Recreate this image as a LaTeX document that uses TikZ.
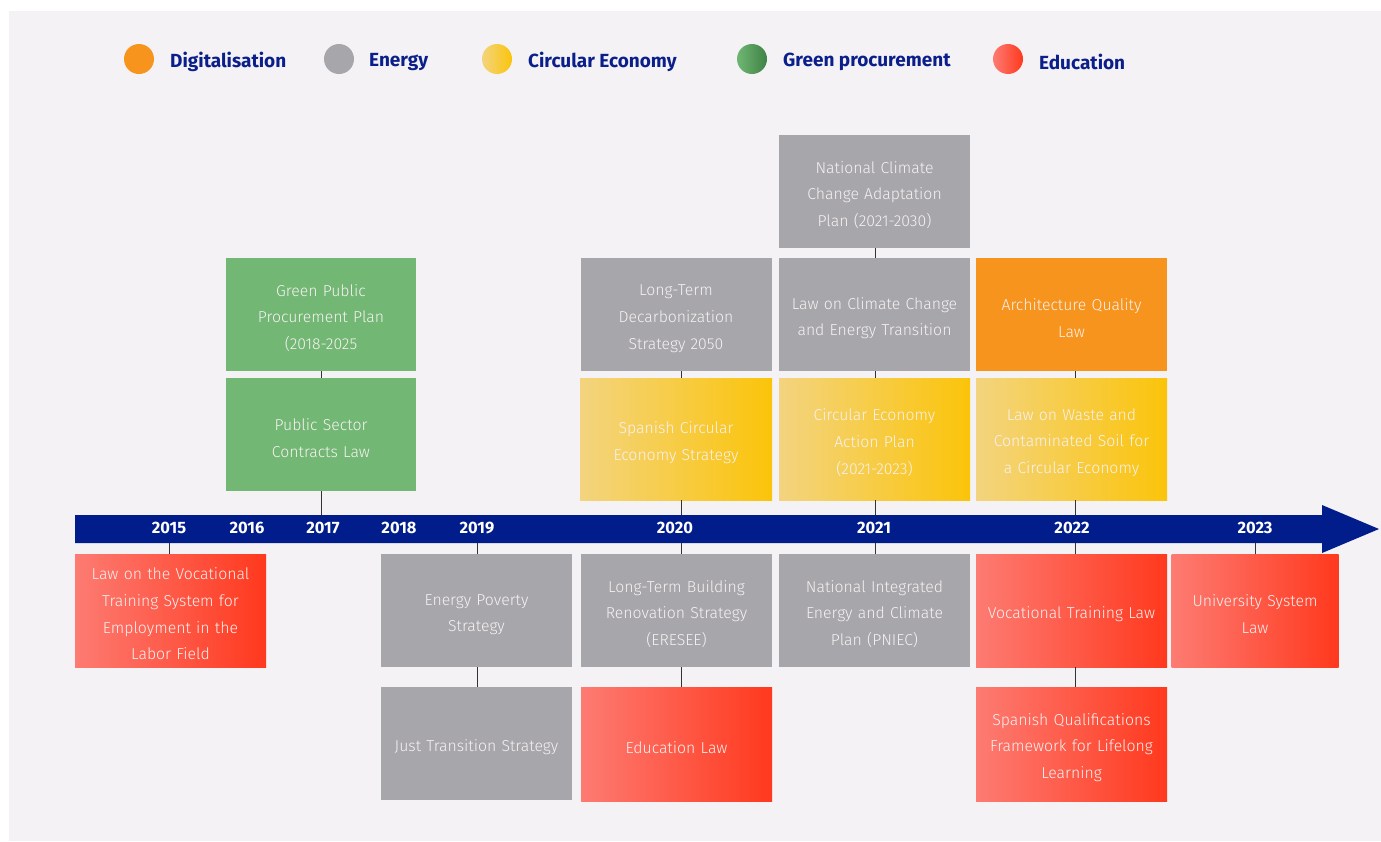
\documentclass[tikz,border=0pt]{standalone}
\usepackage{fontspec}
\setmainfont{Fira Sans}
\newfontfamily\lightfont{Fira Sans Light}
\definecolor{bgc}{HTML}{F4F2F5}
\definecolor{navy}{HTML}{001D8B}
\definecolor{legtxt}{HTML}{0A1F8A}
\definecolor{grayb}{HTML}{A7A6AB}
\definecolor{greenb}{HTML}{72B774}
\definecolor{orangeb}{HTML}{F7941D}
\definecolor{yelL}{HTML}{F3D47F}
\definecolor{yelR}{HTML}{FBC40A}
\definecolor{redL}{HTML}{FD7B72}
\definecolor{redR}{HTML}{FF391E}
\definecolor{grnL}{HTML}{70B673}
\definecolor{grnR}{HTML}{3E8245}
\definecolor{boxtxt}{HTML}{F7F2F2}
\tikzset{
  box/.style={rectangle, inner sep=0pt, minimum width=191pt, minimum height=113pt,
    text width=186pt, align=center, text=boxtxt, font=\lightfont\fontsize{15.8}{26.7}\selectfont,
    execute at begin node={\rule{0pt}{19pt}}},
  graybox/.style={box, fill=grayb},
  greenbox/.style={box, fill=greenb},
  orangebox/.style={box, fill=orangeb},
  yellowbox/.style={box, left color=yelL, right color=yelR, minimum height=122pt},
  redbox/.style={box, left color=redL, right color=redR},
  conn/.style={draw=black!80, line width=0.9pt},
  year/.style={text=white, font=\fontsize{16.5}{18}\selectfont\bfseries, inner sep=0pt},
  legdot/.style={circle, inner sep=0pt, minimum size=30pt},
  legtext/.style={text=legtxt, font=\fontsize{19}{22}\selectfont\bfseries, anchor=west, inner sep=0pt},
}
\begin{document}
\begin{tikzpicture}[x=1pt,y=-1pt]
\useasboundingbox (0,0) rectangle (1381,841);
\fill[white] (0,0) rectangle (1381,841);
\fill[bgc] (9,11) rectangle (1381,841);

% legend
\node[legdot, fill=orangeb] (ld1) at (139,59) {};
\node[legtext] (lt1) at (170,62) {Digitalisation};
\node[legdot, fill=grayb] (ld2) at (339,59) {};
\node[legtext] (lt2) at (369,62) {Energy};
\node[legdot, left color=yelL, right color=yelR] (ld3) at (497,59) {};
\node[legtext] (lt3) at (528,62) {Circular Economy};
\node[legdot, left color=grnL, right color=grnR] (ld4) at (752,59) {};
\node[legtext] (lt4) at (783,62) {Green procurement};
\node[legdot, left color=redL, right color=redR] (ld5) at (1008,59) {};
\node[legtext] (lt5) at (1039,62) {Education};

% axis
\fill[navy] (75,515) -- (1322,515) -- (1322,505) -- (1379,529) -- (1322,553) -- (1322,543) -- (75,543) -- cycle;
\node[year] (y2015) at (169,528) {2015};
\node[year] (y2016) at (247,528) {2016};
\node[year] (y2017) at (323,528) {2017};
\node[year] (y2018) at (399,528) {2018};
\node[year] (y2019) at (477,528) {2019};
\node[year] (y2020) at (675,528) {2020};
\node[year] (y2021) at (874,528) {2021};
\node[year] (y2022) at (1072,528) {2022};
\node[year] (y2023) at (1255,528) {2023};

% tick coordinates on axis
\coordinate (a2017) at (321,515);
\coordinate (a2020) at (681,515);
\coordinate (a2021) at (875,515);
\coordinate (a2022) at (1075,515);
\coordinate (b2015) at (169,543);
\coordinate (b2019) at (477,543);
\coordinate (b2020) at (681,543);
\coordinate (b2021) at (875,543);
\coordinate (b2022) at (1075,543);
\coordinate (b2023) at (1255,543);

% above boxes
\node[greenbox, minimum width=190pt] (gpp) at (321,314.5) {Green Public\\Procurement Plan\\(2018-2025};
\node[greenbox, minimum width=190pt] (psc) at (321,434.5) {Public Sector\\Contracts Law};
\node[graybox] (ltd) at (676,314.5) {Long-Term\\Decarbonization\\Strategy 2050};
\node[yellowbox, minimum width=192pt] (sce) at (676,439) {Spanish Circular\\Economy Strategy};
\node[graybox] (ncc) at (874.5,191.5) {National Climate\\Change Adaptation\\Plan (2021-2030)};
\node[graybox] (lcc) at (874.5,314.5) {Law on Climate Change\\and Energy Transition};
\node[yellowbox] (ceap) at (874.5,439) {Circular Economy\\Action Plan\\(2021-2023)};
\node[orangebox] (aql) at (1071.5,314.5) {Architecture Quality\\Law};
\node[yellowbox] (lwc) at (1071.5,439) {Law on Waste and\\Contaminated Soil for\\a Circular Economy};

% below boxes
\node[redbox] (lvt) at (170.5,610.5) {Law on the Vocational\\Training System for\\Employment in the\\Labor Field};
\node[graybox] (eps) at (476.5,610.5) {Energy Poverty\\Strategy};
\node[graybox] (jts) at (476.5,743.5) {Just Transition Strategy};
\node[graybox] (lbr) at (676.5,610.5) {Long-Term Building\\Renovation Strategy\\(ERESEE)};
\node[redbox, minimum height=114pt] (edu) at (676.5,744) {Education Law};
\node[graybox] (pni) at (874.5,610.5) {National Integrated\\Energy and Climate\\Plan (PNIEC)};
\node[redbox] (vtl) at (1071.5,610.5) {Vocational Training Law};
\node[redbox, minimum height=114pt] (sqf) at (1071.5,744) {Spanish Qualifications\\Framework for Lifelong\\Learning};
\node[redbox, minimum width=167pt, text width=164pt] (usl) at (1255,610.5) {University System\\Law};

% connectors above
\draw[conn] (psc.south -| a2017) -- (a2017);
\draw[conn] (gpp.south -| a2017) -- (psc.north -| a2017);
\draw[conn] (sce.south -| a2020) -- (a2020);
\draw[conn] (ltd.south -| a2020) -- (sce.north -| a2020);
\draw[conn] (ceap.south -| a2021) -- (a2021);
\draw[conn] (lcc.south -| a2021) -- (ceap.north -| a2021);
\draw[conn] (ncc.south -| a2021) -- (lcc.north -| a2021);
\draw[conn] (lwc.south -| a2022) -- (a2022);
\draw[conn] (aql.south -| a2022) -- (lwc.north -| a2022);

% connectors below
\draw[conn] (b2015) -- (lvt.north -| b2015);
\draw[conn] (b2019) -- (eps.north -| b2019);
\draw[conn] (eps.south -| b2019) -- (jts.north -| b2019);
\draw[conn] (b2020) -- (lbr.north -| b2020);
\draw[conn] (lbr.south -| b2020) -- (edu.north -| b2020);
\draw[conn] (b2021) -- (pni.north -| b2021);
\draw[conn] (b2022) -- (vtl.north -| b2022);
\draw[conn] (vtl.south -| b2022) -- (sqf.north -| b2022);
\draw[conn] (b2023) -- (usl.north -| b2023);
\end{tikzpicture}
\end{document}
